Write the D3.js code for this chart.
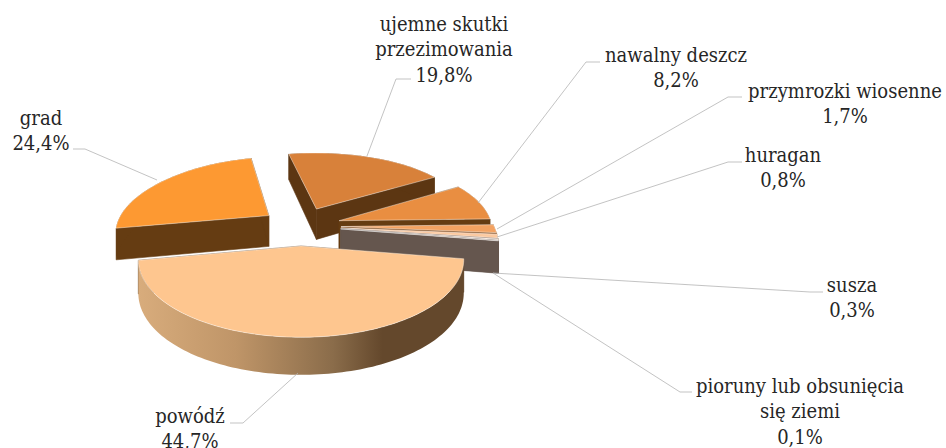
<!DOCTYPE html>
<html><head><meta charset="utf-8">
<script src="https://d3js.org/d3.v7.min.js"></script>
<style>html,body{margin:0;background:#fff}svg{display:block}
text{font-family:"DejaVu Serif Condensed","DejaVu Serif",serif;font-size:20px;fill:#262626}</style>
</head><body><svg id="c" width="946" height="448"></svg>
<script>
const categories = ["powódź","grad","ujemne skutki przezimowania","nawalny deszcz","przymrozki wiosenne","huragan","susza","pioruny lub obsunięcia się ziemi"];
const values = [44.7,24.4,19.8,8.2,1.7,0.8,0.3,0.1];
const valueLabels = ["44,7%","24,4%","19,8%","8,2%","1,7%","0,8%","0,3%","0,1%"];
const topColors = ["#fec68f","#fd9932","#d8813a","#e98e41","#f3a261","#fbc9a0","#f6e6da","#e8d8cc"];
const wallColors = ["#64482c","#653c12","#5c3612","#653c12","#8a5a30","#c09070","#65564e","#65564e"];
const labelLines = [["powódź"],["grad"],["ujemne skutki","przezimowania"],["nawalny deszcz"],["przymrozki wiosenne"],["huragan"],["susza"],["pioruny lub obsunięcia","się ziemi"]];
const labelAnchors = [[190,423],[41,125],[444,31],[676,62],[845,98],[783,162],[852,292],[800,393]];
const leaders = [
 [[230,423],[243,423],[298,373]],
 [[73,149],[85,149],[157,180]],
 [[411,79],[396,79],[367,156]],
 [[600,62],[586,62],[478,203]],
 [[742,97],[728,97],[497,229]],
 [[742,162],[728,162],[497,237]],
 [[823,292],[810,292],[493,273]],
 [[692,392],[680,392],[493,273]]];

const svg = d3.select("#c");
const R = 153, E = 40, H = 31.5, startAngle = 9*Math.PI/180;
const pie = d3.pie().sort(null).startAngle(startAngle).endAngle(startAngle+2*Math.PI)(values);
const persp = (X,Y)=> Y>=0 ? (X>0?0.0012:0.0012) : (X>0?0.0008:0.0014);
const sx = (X,Y)=>301+X*(1+persp(X,Y)*Y);
const sy = (Y)=>226+Y*(0.48+0.0005*Y);
const height = Y=>H*(1+0.001*Y);
const toTop = (X,Y)=>[sx(X,Y),sy(Y)];
const toBot = (X,Y)=>[sx(X,Y),sy(Y)+height(Y)];
const line = d3.line();
const slices = pie.map((p,i)=>{
  const mid=(p.startAngle+p.endAngle)/2;
  const cx=E*Math.cos(mid)*(i===0?0.1:1), cy=E*Math.sin(mid);
  const n=Math.max(2,Math.ceil((p.endAngle-p.startAngle)*40));
  const rim=d3.range(n+1).map(k=>{const a=p.startAngle+(p.endAngle-p.startAngle)*k/n;return [cx+R*Math.cos(a),cy+R*Math.sin(a)];});
  return {i,c:[cx,cy],rim};
});
const defs=svg.append("defs");
const grad=defs.append("linearGradient").attr("id","wall").attr("x1","0").attr("x2","1").attr("y1","0").attr("y2","0");
[[0,"#d8ac7c"],[0.3,"#bf9568"],[0.6,"#8a6c4a"],[0.75,"#64482c"],[1,"#64482c"]].forEach(s=>grad.append("stop").attr("offset",s[0]).attr("stop-color",s[1]));

function face(a,b,fill,stroke){
  svg.append("path").attr("d",line([toTop(...a),toTop(...b),toBot(...b),toBot(...a)])+"Z").attr("fill",fill).attr("stroke",stroke||fill).attr("stroke-width",0.6);
}
[1,2,3,4,5,6,7,0].forEach(i=>{
  const s=slices[i], w=wallColors[i], first=s.rim[0], last=s.rim[s.rim.length-1];
  face(s.c,first,w); face(s.c,last,w);
  const topPts=s.rim.map(d=>toTop(...d)), botPts=s.rim.map(d=>toBot(...d)).reverse();
  svg.append("path").attr("d",line(topPts.concat(botPts))+"Z").attr("fill",i===0?"url(#wall)":w);
  svg.append("path").attr("d",line([toTop(...s.c),...topPts])+"Z").attr("fill",topColors[i]).attr("stroke","#ffffff").attr("stroke-opacity",0.6).attr("stroke-width",0.7);
});
leaders.forEach(l=>svg.append("path").attr("d",line(l)).attr("fill","none").attr("stroke","#b4b4b4").attr("stroke-width",0.8));
categories.forEach((c,i)=>{
  const t=svg.append("text").attr("text-anchor","middle").attr("x",labelAnchors[i][0]).attr("y",labelAnchors[i][1]);
  labelLines[i].concat([valueLabels[i]]).forEach((s,k)=>t.append("tspan").attr("x",labelAnchors[i][0]).attr("dy",k?25.3:0).text(s));
});
</script></body></html>
